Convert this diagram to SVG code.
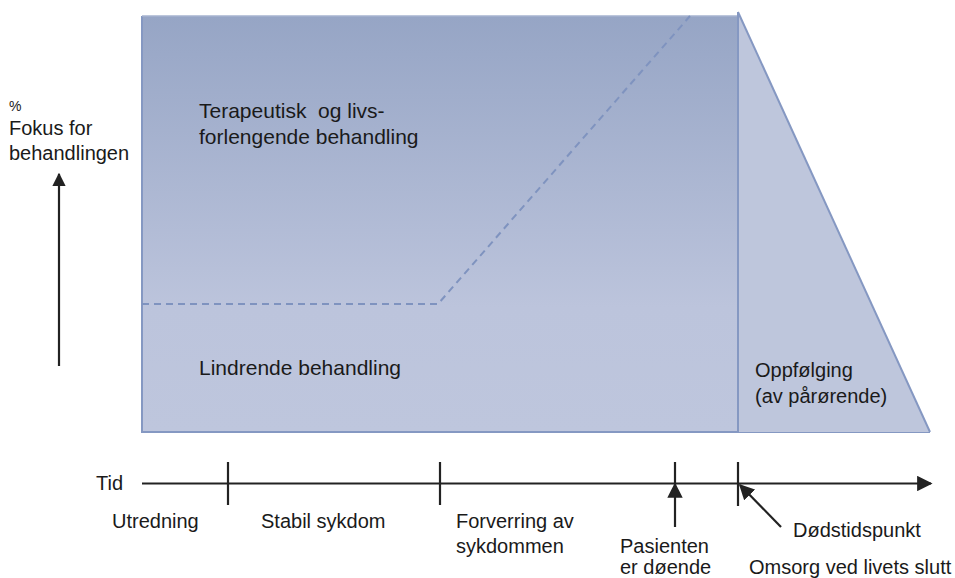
<svg xmlns="http://www.w3.org/2000/svg" width="955" height="578" viewBox="0 0 955 578">
  <style>
    text { font-family: "Liberation Sans", Arial, sans-serif; fill: #1a1a1a; font-size: 20px; }
    .big { font-size: 21px; }
    .small { font-size: 14px; }
    .axis { stroke: #222; stroke-width: 2.2; fill: none; }
    .edge { stroke: #8598c2; stroke-width: 2; fill: none; }
    .dash { stroke: #7f93bf; stroke-width: 2; stroke-dasharray: 7 5; fill: none; }
  </style>
  <defs>
    <linearGradient id="g" x1="0" y1="0" x2="0" y2="1">
      <stop offset="0" stop-color="#96a5c5"/>
      <stop offset="0.7" stop-color="#bcc4dc"/>
      <stop offset="1" stop-color="#bec6dd"/>
    </linearGradient>
    <marker id="ah" viewBox="0 0 10 10" refX="9" refY="5" markerWidth="7" markerHeight="7" orient="auto" markerUnits="strokeWidth">
      <path d="M0,0 L10,5 L0,10 z" fill="#222"/>
    </marker>
    <marker id="ah2" viewBox="0 0 10 10" refX="9" refY="5" markerWidth="6" markerHeight="6" orient="auto" markerUnits="strokeWidth">
      <path d="M0,0 L10,5 L0,10 z" fill="#222"/>
    </marker>
  </defs>

  <g id="area-main">
    <rect x="142" y="16" width="596" height="416" fill="url(#g)"/>
    <path class="edge" d="M142,16 L142,432 L930,432"/>
    <path d="M142,16 L738,16" stroke="#a6b3cf" stroke-width="1.5"/>
  </g>
  <g id="area-followup">
    <polygon points="738,12 930,432 738,432" fill="#bec6dc"/>
    <path class="edge" d="M738,12 L930,432"/>
    <path class="edge" d="M738,12 L738,432"/>
  </g>
  <g id="divider">
    <path class="dash" d="M142,304 L438,304 L690,16"/>
  </g>

  <g id="labels">
    <text class="small" x="9" y="111">%</text>
    <text x="9" y="135">Fokus for</text>
    <text x="9" y="160">behandlingen</text>
    <text class="big" x="199" y="118" xml:space="preserve">Terapeutisk  og livs-</text>
    <text class="big" x="199" y="144">forlengende behandling</text>
    <text class="big" x="199" y="375">Lindrende behandling</text>
    <text x="755" y="377">Oppfølging</text>
    <text x="755" y="403">(av pårørende)</text>
  </g>

  <g id="connectors">
    <line class="axis" x1="59" y1="366" x2="59" y2="174" marker-end="url(#ah2)" stroke-width="2.6"/>
    <line class="axis" x1="142" y1="483.5" x2="931" y2="483.5" marker-end="url(#ah)"/>
    <line class="axis" x1="228" y1="462" x2="228" y2="505"/>
    <line class="axis" x1="440" y1="462" x2="440" y2="505"/>
    <line class="axis" x1="675" y1="462" x2="675" y2="484"/>
    <line class="axis" x1="738" y1="462" x2="738" y2="506"/>
    <line class="axis" x1="675" y1="527" x2="675" y2="484" marker-end="url(#ah)"/>
    <line class="axis" x1="781" y1="527" x2="740" y2="485" marker-end="url(#ah)"/>
  </g>

  <g id="timeline-labels">
    <text x="96" y="490">Tid</text>
    <text x="112" y="528">Utredning</text>
    <text x="261" y="528">Stabil sykdom</text>
    <text x="456" y="528">Forverring av</text>
    <text x="456" y="553">sykdommen</text>
    <text x="620" y="553">Pasienten</text>
    <text x="620" y="574">er døende</text>
    <text x="793" y="537">Dødstidspunkt</text>
    <text x="749" y="574">Omsorg ved livets slutt</text>
  </g>
</svg>
